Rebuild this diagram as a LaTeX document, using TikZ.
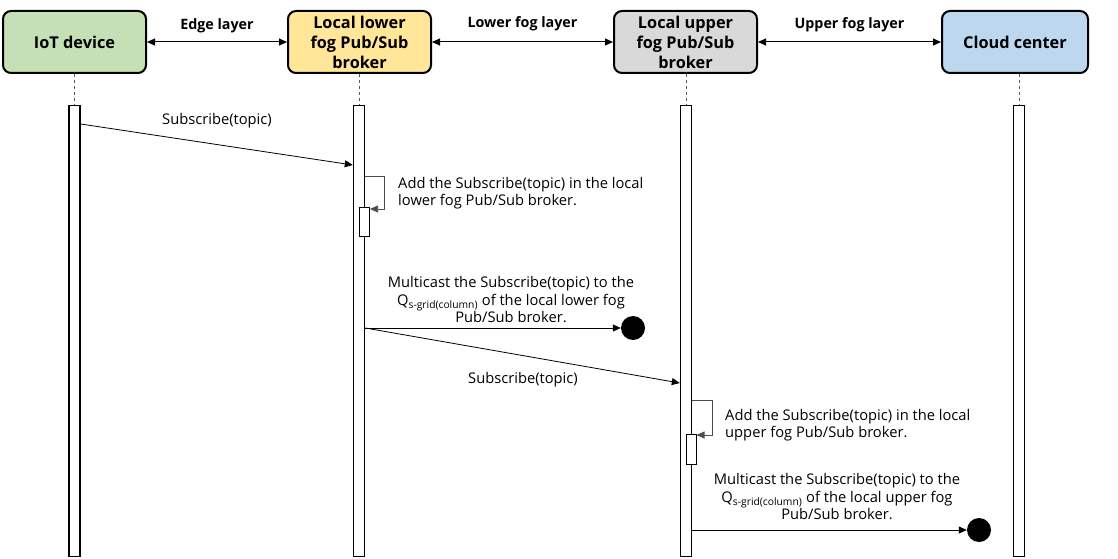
\documentclass[tikz,border=0pt]{standalone}
\usepackage{fontspec}
\setmainfont{Open Sans}
\usetikzlibrary{arrows.meta}
\definecolor{cgreen}{HTML}{C5E0B4}
\definecolor{cyellow}{HTML}{FFE699}
\definecolor{cgray}{HTML}{D9D9D9}
\definecolor{cblue}{HTML}{BDD7EE}
\tikzset{
  header/.style={draw=black, line width=2pt, rounded corners=8pt, minimum width=143pt, minimum height=62pt, align=center, font=\fontsize{16.3}{20}\selectfont\bfseries, inner sep=0pt},
  lifeline/.style={dashed, line width=0.7pt, gray!70!black},
  bar/.style={draw=black, fill=white, line width=1.4pt},
  msg/.style={line width=0.8pt, -{Triangle[length=8pt,width=7pt]}},
  layerarrow/.style={line width=1pt, {Triangle[length=8pt,width=7pt]}-{Triangle[length=8pt,width=7pt]}},
  layerlbl/.style={font=\fontsize{14.3}{16}\selectfont\bfseries},
  msglbl/.style={font=\fontsize{14.7}{17.5}\selectfont, align=center},
  note/.style={font=\fontsize{14.7}{17.5}\selectfont, align=left, anchor=north west, inner sep=0pt},
  loop/.style={line width=0.7pt, -{Triangle[length=8pt,width=7pt]}},
  endpt/.style={circle, fill=black, minimum size=24pt, inner sep=0pt}
}
\begin{document}
\begin{tikzpicture}[x=1pt,y=-1pt]
\useasboundingbox (0,0) rectangle (1118,559);
% headers
\node[header, fill=cgreen]  (iot)   at (74.5,42)  {IoT device};
\node[header, fill=cyellow] (lower) at (359.5,42) {Local lower\\fog Pub/Sub\\broker};
\node[header, fill=cgray]   (upper) at (685.5,42) {Local upper\\fog Pub/Sub\\broker};
\node[header, fill=cblue, minimum width=146pt]   (cloud) at (1015,42)  {Cloud center};
% layer arrows
\draw[layerarrow] (iot.east) -- node[layerlbl, above=5pt]{Edge layer} (lower.west);
\draw[layerarrow] (lower.east) -- node[layerlbl, above=7pt]{Lower fog layer} (upper.west);
\draw[layerarrow] (upper.east) -- node[layerlbl, above=6pt]{Upper fog layer} (cloud.west);
% activation bars
\node[bar, minimum width=11pt, minimum height=451pt, inner sep=0pt, anchor=north] (biot) at (74.5,105) {};
\node[bar, minimum width=11pt, minimum height=451pt, inner sep=0pt, anchor=north] (blow) at (359,105) {};
\node[bar, minimum width=11pt, minimum height=451pt, inner sep=0pt, anchor=north] (bup)  at (686,105) {};
\node[bar, minimum width=11pt, minimum height=451pt, inner sep=0pt, anchor=north] (bcl)  at (1019,105) {};
% lifelines
\draw[lifeline] (iot.south -| biot.north) -- (biot.north);
\draw[lifeline] (lower.south -| blow.north) -- (blow.north);
\draw[lifeline] (upper.south -| bup.north) -- (bup.north);
\draw[lifeline] (cloud.south -| bcl.north) -- (bcl.north);
% message 1
\coordinate (m1s) at (biot.east |- 0,124);
\coordinate (m1e) at (blow.west |- 0,165);
\draw[msg] (m1s) -- (m1e);
\node[msglbl] (l1) at (217,121) {Subscribe(topic)};
% self loop lower
\node[bar, line width=1pt, minimum width=10pt, minimum height=29pt, inner sep=0pt, anchor=north] (slow) at (364.5,207) {};
\coordinate (sl1) at (blow.east |- 0,176);
\coordinate (sl2) at (384,176);
\coordinate (sl3) at (384,209);
\draw[loop, gray!60!black] (sl1) -- (sl2) -- (sl3) -- (slow.east |- sl3);
\node[note] (n1) at (398,177) {Add the Subscribe(topic) in the local\\lower fog Pub/Sub broker.};
% multicast lower
\node[msglbl] (mc1) at (511,300) {Multicast the Subscribe(topic) to the\\Q\textsubscript{s-grid(column)} of the local lower fog\\Pub/Sub broker.};
\node[endpt] (e1) at (633,328) {};
\coordinate (mc1s) at (blow.east |- 0,328);
\draw[msg] (mc1s) -- (e1.west);
% message 2
\coordinate (m2e) at (bup.west |- 0,383);
\draw[msg] (mc1s) -- (m2e);
\node[msglbl] (l2) at (523,380) {Subscribe(topic)};
% self loop upper
\node[bar, line width=1pt, minimum width=10pt, minimum height=30pt, inner sep=0pt, anchor=north] (sup) at (691,434) {};
\coordinate (su1) at (bup.east |- 0,400);
\coordinate (su2) at (712,400);
\coordinate (su3) at (712,435);
\draw[loop, gray!60!black] (su1) -- (su2) -- (su3) -- (sup.east |- su3);
\node[note] (n2) at (725,409) {Add the Subscribe(topic) in the local\\upper fog Pub/Sub broker.};
% multicast upper
\node[msglbl] (mc2) at (837,497) {Multicast the Subscribe(topic) to the\\Q\textsubscript{s-grid(column)} of the local upper fog\\Pub/Sub broker.};
\node[endpt] (e2) at (979,530) {};
\coordinate (mc2s) at (bup.east |- 0,530);
\draw[msg] (mc2s) -- (e2.west);
\end{tikzpicture}
\end{document}
